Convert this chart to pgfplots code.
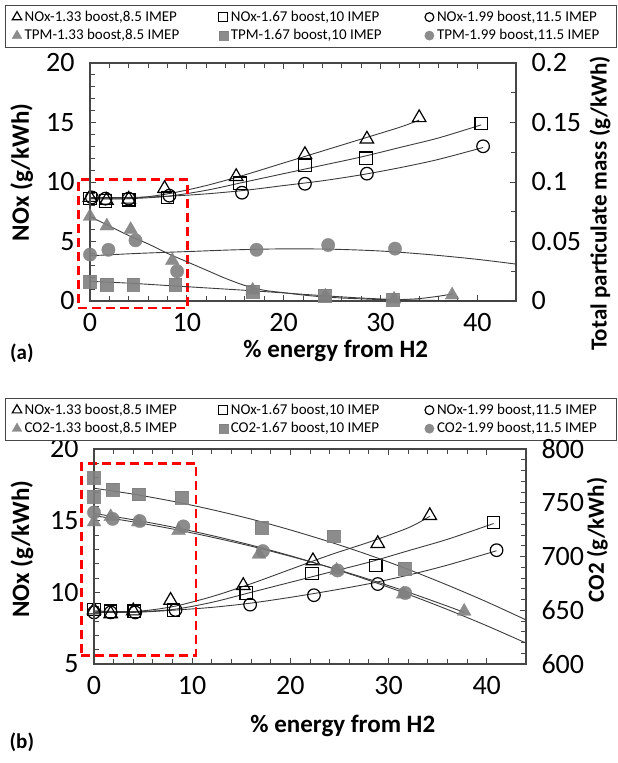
\documentclass[border=0pt]{standalone}
\usepackage{fontspec}
\setmainfont{Carlito}
\usepackage{pgfplots}
\pgfplotsset{compat=1.18}
\definecolor{mk}{RGB}{128,128,128}
\definecolor{ln}{RGB}{60,60,60}
\definecolor{ax}{RGB}{70,70,70}
\newcommand{\labfont}{\fontsize{25bp}{25bp}\selectfont\bfseries}
\newcommand{\rlabfont}{\fontsize{23bp}{23bp}\selectfont\bfseries}
\pgfplotsset{
 base/.style={scale only axis, xmin=0, xmax=44, clip=false,
   tick align=inside, major tick length=6bp, minor tick length=5bp,
   every tick/.append style={ax, line width=0.9bp},
   axis line style={ax, line width=1.1bp},
   tick label style={font=\fontsize{28bp}{28bp}\selectfont},
   /pgf/number format/assume math mode=true,
 },
 leg/.style={legend columns=3, legend cell align=left,
   legend style={draw=ax, line width=0.8bp, fill=white,
     font=\fontsize{15bp}{15bp}\selectfont, inner xsep=6bp, inner ysep=4bp,
     column sep=0bp, row sep=2.5bp,
     nodes={inner xsep=2bp, inner ysep=1bp, text height=11bp, text depth=3bp},
     /tikz/every even column/.append style={column sep=20bp}}},
 nox1/.style={only marks, mark=triangle, mark size=7.8bp, black, line width=1.2bp},
 nox2/.style={only marks, mark=square, mark size=6.2bp, black, line width=1.2bp},
 nox3/.style={only marks, mark=o, mark size=6.3bp, black, line width=1.2bp},
 gr1/.style={only marks, mark=triangle*, mark size=8bp, color=mk, line width=0.3bp, opacity=0.9},
 gr2/.style={only marks, mark=square*, mark size=6.4bp, color=mk, line width=0.3bp, opacity=0.9},
 gr3/.style={only marks, mark=*, mark size=6.7bp, color=mk, line width=0.3bp, opacity=0.9},
 fit/.style={no markers, smooth, ln, line width=0.9bp, forget plot},
 redbox/.style={red, line width=2.6bp, dash pattern=on 9bp off 5bp, line join=miter, forget plot},
}
\pgfplotsset{legend image code/.code={\path (-5bp,0bp) (5bp,0bp);\draw[#1,mark options={scale=0.7}] plot coordinates {(0bp,0bp)};}}
\begin{document}
\begin{tikzpicture}[x=1bp,y=1bp]
\path[use as bounding box] (0,0) rectangle (618,763);
% ================= panel (a) =================
\begin{axis}[base, leg, at={(90bp,462bp)}, anchor=south west, width=426bp, height=238bp,
  ymin=0, ymax=20, ytick={0,5,10,15,20}, minor y tick num=4,
  xtick={0,10,20,30,40}, minor x tick num=4, xtick pos=both, ytick pos=left,
  xticklabel style={yshift=-9bp}, yticklabel style={xshift=-12bp},
  xlabel={\% energy from H2}, ylabel={NOx (g/kWh)},
  every axis x label/.style={at={(axis description cs:0.577,-0.208)}, anchor=center, font=\labfont},
  every axis y label/.style={at={(axis description cs:-0.16,0.54)}, anchor=center, rotate=90, font=\labfont},
  legend style={at={(axis description cs:-0.1995,1.063)}, anchor=south west}]
\addplot[fit] coordinates {(0,8.6) (4,8.6) (8,9.0) (12,9.7) (16,10.6) (20,11.6) (24,12.6) (28,13.6) (32,14.6) (34,15.2)};
\addplot[fit] coordinates {(0,8.6) (4,8.6) (8,8.8) (12,9.3) (16,10.0) (20,10.7) (24,11.4) (28,12.1) (32,12.9) (36,13.7) (40.4,14.8)};
\addplot[fit] coordinates {(0,8.7) (4,8.7) (8,8.8) (12,9.0) (16,9.3) (20,9.7) (24,10.1) (28,10.6) (32,11.2) (36,11.9) (40.6,12.9)};
\addplot[nox1] coordinates {(0,8.7) (1.7,8.45) (4.0,8.55) (7.7,9.45) (15.1,10.45) (22.2,12.3) (28.6,13.6) (34.0,15.4)};
\addlegendentry{\makebox[171bp][l]{NOx-1.33 boost,8.5 IMEP}}
\addplot[nox2] coordinates {(0,8.6) (1.6,8.4) (4.0,8.5) (8.0,8.7) (15.5,9.9) (22.2,11.4) (28.5,12.0) (40.4,14.9)};
\addlegendentry{\makebox[171bp][l]{NOx-1.67 boost,10 IMEP}}
\addplot[nox3] coordinates {(0.2,8.7) (1.6,8.6) (4.0,8.6) (8.2,8.85) (15.7,9.1) (22.2,9.85) (28.6,10.7) (40.6,13.0)};
\addlegendentry{\makebox[171bp][l]{NOx-1.99 boost,11.5 IMEP}}
\addlegendimage{gr1}\addlegendentry{\makebox[171bp][l]{TPM-1.33 boost,8.5 IMEP}}
\addlegendimage{gr2}\addlegendentry{\makebox[171bp][l]{TPM-1.67 boost,10 IMEP}}
\addlegendimage{gr3}\addlegendentry{\makebox[171bp][l]{TPM-1.99 boost,11.5 IMEP}}
\addplot[redbox] coordinates {(-1.2,-0.6) (10.1,-0.6) (10.1,10.2) (-1.2,10.2) (-1.2,-0.6)};
\node[font=\fontsize{21bp}{21bp}\selectfont\bfseries] at (rel axis cs:-0.16,-0.22) {(a)};
\end{axis}
\begin{axis}[base, at={(90bp,462bp)}, anchor=south west, width=426bp, height=238bp,
  ymin=0, ymax=0.2, ytick={0,0.05,0.1,0.15,0.2}, minor y tick num=1,
  hide x axis, ytick pos=right, yticklabel pos=right, scaled y ticks=false,
  yticklabel style={xshift=12bp, /pgf/number format/fixed, /pgf/number format/precision=2},
  ylabel={Total particulate mass (g/kWh)},
  every axis y label/.style={at={(axis description cs:1.197,0.41)}, anchor=center, rotate=90, font=\rlabfont}]
\addplot[fit] coordinates {(0,0.071) (2,0.063) (4,0.055) (6,0.048) (8,0.040) (10,0.033) (12,0.026) (14,0.019) (16,0.013) (18,0.009) (20,0.007) (22,0.005) (24,0.0035) (26,0.0025) (28,0.0018) (30,0.0012) (32,0.0012) (34,0.002) (36,0.004) (37.5,0.006)};
\addplot[fit] coordinates {(0,0.0165) (4,0.015) (8,0.013) (12,0.011) (16,0.009) (20,0.0068) (24,0.0045) (28,0.0025) (32,0.0011) (36,0.0004) (40,0.0001) (44,0)};
\addplot[fit] coordinates {(0,0.038) (5,0.040) (10,0.0415) (15,0.043) (20,0.0438) (25,0.0435) (30,0.042) (35,0.039) (40,0.035) (44,0.031)};
\addplot[gr1] coordinates {(0,0.071) (1.74,0.063) (4.2,0.06) (8.5,0.034) (16.8,0.009) (24.3,0.004) (31.4,0.0015) (37.4,0.005)};
\addplot[gr2] coordinates {(0,0.0165) (1.74,0.0136) (4.45,0.014) (8.8,0.0136) (16.8,0.008) (24.2,0.0043) (31.3,0.001)};
\addplot[gr3] coordinates {(0,0.039) (1.9,0.043) (4.7,0.051) (9.0,0.025) (17.2,0.043) (24.6,0.047) (31.5,0.044)};
\end{axis}
% ================= panel (b) =================
\begin{axis}[base, leg, at={(94bp,99bp)}, anchor=south west, width=432bp, height=215bp,
  ymin=5, ymax=20, ytick={5,10,15,20}, minor y tick num=4,
  xtick={0,10,20,30,40}, minor x tick num=4, xtick pos=both, ytick pos=left,
  xticklabel style={yshift=-9bp}, yticklabel style={xshift=-12bp},
  xlabel={\% energy from H2}, ylabel={NOx (g/kWh)},
  every axis x label/.style={at={(axis description cs:0.576,-0.29)}, anchor=center, font=\labfont},
  every axis y label/.style={at={(axis description cs:-0.167,0.535)}, anchor=center, rotate=90, font=\labfont},
  legend style={at={(axis description cs:-0.206,1.037)}, anchor=south west}]
\addplot[fit] coordinates {(0,8.7) (4,8.65) (8,9.0) (12,9.7) (16,10.6) (20,11.6) (24,12.6) (28,13.5) (32,14.5) (34.2,15.3)};
\addplot[fit] coordinates {(0,8.7) (4,8.65) (8,8.8) (12,9.3) (16,10.0) (20,10.7) (24,11.4) (28,12.1) (32,12.9) (36,13.7) (40.7,14.8)};
\addplot[fit] coordinates {(0,8.6) (4,8.6) (8,8.75) (12,8.95) (16,9.25) (20,9.65) (24,10.1) (28,10.6) (32,11.2) (36,11.9) (41,12.9)};
\addplot[nox1] coordinates {(0,8.77) (1.7,8.5) (4,8.7) (7.8,9.44) (15.2,10.47) (22.3,12.2) (28.9,13.4) (34.2,15.35)};
\addlegendentry{\makebox[171bp][l]{NOx-1.33 boost,8.5 IMEP}}
\addplot[nox2] coordinates {(0,8.8) (1.7,8.68) (4.1,8.68) (8.1,8.77) (15.5,9.96) (22.2,11.3) (28.7,11.87) (40.7,14.86)};
\addlegendentry{\makebox[171bp][l]{NOx-1.67 boost,10 IMEP}}
\addplot[nox3] coordinates {(0,8.6) (1.7,8.6) (4.2,8.6) (8.3,8.77) (15.9,9.14) (22.4,9.8) (28.9,10.58) (41.0,12.94)};
\addlegendentry{\makebox[171bp][l]{NOx-1.99 boost,11.5 IMEP}}
\addlegendimage{gr1}\addlegendentry{\makebox[171bp][l]{CO2-1.33 boost,8.5 IMEP}}
\addlegendimage{gr2}\addlegendentry{\makebox[171bp][l]{CO2-1.67 boost,10 IMEP}}
\addlegendimage{gr3}\addlegendentry{\makebox[171bp][l]{CO2-1.99 boost,11.5 IMEP}}
\addplot[redbox] coordinates {(-1.3,5.6) (10.4,5.6) (10.4,19.0) (-1.3,19.0) (-1.3,5.6)};
\node[font=\fontsize{21bp}{21bp}\selectfont\bfseries] at (rel axis cs:-0.167,-0.365) {(b)};
\end{axis}
\begin{axis}[base, at={(94bp,99bp)}, anchor=south west, width=432bp, height=215bp,
  ymin=600, ymax=800, ytick={600,650,700,750,800}, minor y tick num=4,
  hide x axis, ytick pos=right, yticklabel pos=right,
  yticklabel style={xshift=12bp},
  ylabel={CO2 (g/kWh)},
  every axis y label/.style={at={(axis description cs:1.165,0.577)}, anchor=center, rotate=90, font=\rlabfont}]
\addplot[fit] coordinates {(0,738) (4,732.2) (8,725.6) (12,718.0) (16,709.6) (20,700.2) (24,690.0) (28,678.8) (32,666.8) (36,653.8) (37.7,648)};
\addplot[fit] coordinates {(0,763.5) (4,758.0) (8,751.4) (12,743.6) (16,734.8) (20,724.7) (24,713.6) (28,701.4) (32,688.0) (36,673.4) (40,657.8) (44,641.0)};
\addplot[fit] coordinates {(0,740) (4,734.2) (8,727.4) (12,719.5) (16,710.6) (20,700.7) (24,689.8) (28,677.8) (32,664.8) (36,650.7) (40,635.6) (44,619.5)};
\addplot[gr1] coordinates {(0,732) (1.7,737) (4.5,732) (8.6,724) (16.8,702) (24.7,687) (31.5,665) (37.7,649)};
\addplot[gr2] coordinates {(0,773) (0,756) (1.9,762) (4.55,758) (8.9,755) (17.1,727) (24.4,719) (31.6,689)};
\addplot[gr3] coordinates {(0,741) (1.9,735) (4.65,733) (9.1,728) (17.2,705) (24.8,687) (31.7,666)};
\end{axis}
\end{tikzpicture}
\end{document}
